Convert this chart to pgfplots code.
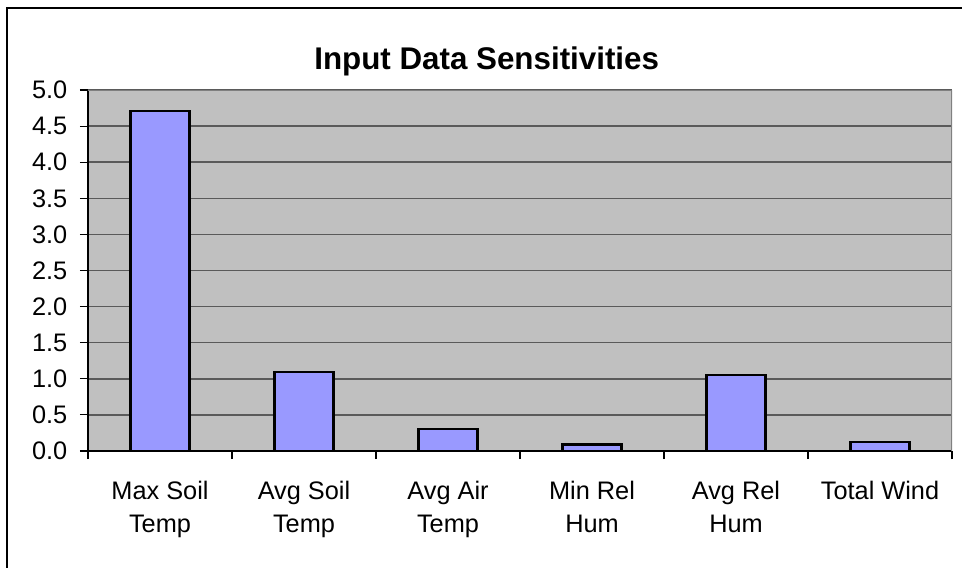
\documentclass[border=0pt]{standalone}
\usepackage{pgfplots}
\pgfplotsset{compat=1.18}
\usepackage{fontspec}
\setmainfont{Liberation Sans}
\definecolor{plotbg}{RGB}{192,192,192}
\definecolor{barfill}{RGB}{153,153,255}
\definecolor{gridc}{RGB}{90,90,90}
\begin{document}
\begin{tikzpicture}
% page = 962x567 px at 0.75pt per px
\useasboundingbox (-66pt,-87pt) rectangle (655.5pt,338.25pt);
\begin{axis}[
  at={(0,0)}, anchor=south west,
  scale only axis,
  width=648pt, height=270.75pt,
  /pgf/number format/.cd, fixed, fixed zerofill, precision=1, assume math mode=true,
  /pgfplots/.cd,
  xmin=-0.5, xmax=5.5,
  ymin=0, ymax=5,
  ytick={0,0.5,...,5},
  xtick={0,1,2,3,4,5},
  xticklabels={Max Soil\\Temp, Avg Soil\\Temp, Avg Air\\Temp, Min Rel\\Hum, Avg Rel\\Hum, Total Wind},
  minor xtick={-0.5,0.5,1.5,2.5,3.5,4.5,5.5},
  major tick length=0pt,
  minor tick length=6pt,
  tick align=outside,
  ytick style={black, line width=0.8pt, /pgfplots/major tick length=6pt},
  xtick style={black, line width=0.8pt},
  axis x line*=bottom, axis y line*=left,
  axis line style={black, line width=0.9pt, -},
  ymajorgrids=true,
  grid style={gridc, line width=1.1pt},
  axis background/.style={fill=plotbg},
  yticklabel style={font=\fontsize{19pt}{23pt}\selectfont, xshift=-12pt},
  xticklabel style={align=center, font=\fontsize{19pt}{24.75pt}\selectfont, yshift=-19pt},
  ybar, bar width=0.41,
]
\addplot[fill=barfill, draw=black, line width=1.6pt] coordinates {
  (0,4.71) (1,1.09) (2,0.30) (3,0.09) (4,1.05) (5,0.12)
};
\draw[gray, line width=0.9pt] (rel axis cs:0,1) -- (rel axis cs:1,1) -- (rel axis cs:1,0);
\end{axis}
\node[anchor=base, font=\bfseries\fontsize{23.5pt}{28pt}\selectfont] at (299pt,285.75pt) {Input Data Sensitivities};
\draw[black, line width=1.5pt] (-60.75pt,-90pt) -- (-60.75pt,331.9pt) -- (660pt,331.9pt);
\end{tikzpicture}
\end{document}
